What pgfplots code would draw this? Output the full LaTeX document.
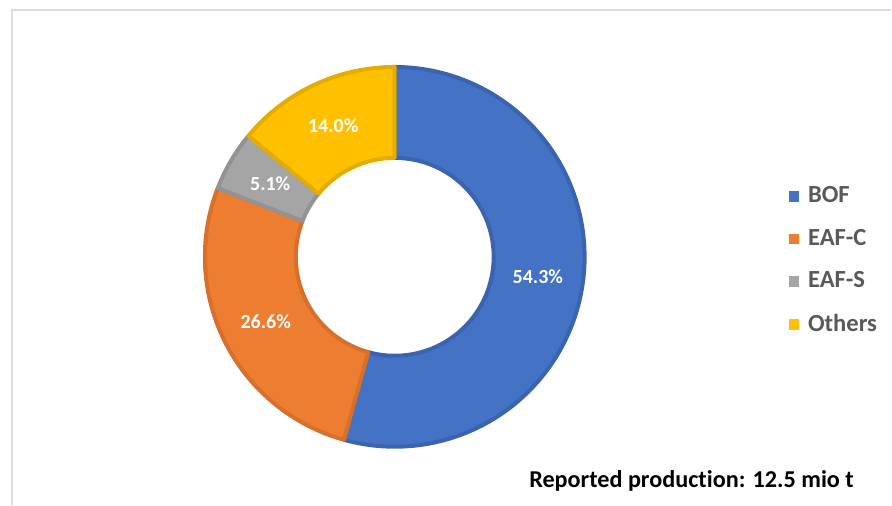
\documentclass[border=0pt]{standalone}
\usepackage{pgfplots}
\pgfplotsset{compat=1.18}
\usepackage{fontspec}
\setmainfont{Carlito}[Ligatures=NoCommon]
\definecolor{cBOF}{HTML}{4472C4}\definecolor{dBOF}{HTML}{3B64B0}
\definecolor{cEAFC}{HTML}{ED7D31}\definecolor{dEAFC}{HTML}{D6702A}
\definecolor{cEAFS}{HTML}{A5A5A5}\definecolor{dEAFS}{HTML}{939393}
\definecolor{cOTH}{HTML}{FFC000}\definecolor{dOTH}{HTML}{E4AC00}
\definecolor{legtext}{HTML}{595959}
\definecolor{framec}{HTML}{DDDDDD}
% shares in percent: BOF 54.3, EAF-C 26.6, EAF-S 5.1, Others 14.0
\pgfmathsetmacro{\angA}{90}
\pgfmathsetmacro{\angB}{\angA-3.6*54.3}
\pgfmathsetmacro{\angC}{\angB-3.6*26.6}
\pgfmathsetmacro{\angD}{\angC-3.6*5.1}
\pgfmathsetmacro{\angE}{\angD-3.6*14.0}
\begin{document}
\begin{tikzpicture}
\begin{axis}[
  scale only axis, width=446pt, height=252.5pt,
  xmin=0, xmax=892, ymin=0, ymax=505,
  hide axis, clip=false,
  legend style={at={(axis cs:789,322.5)}, anchor=north west, draw=none, fill=none,
    font=\fontsize{12.3}{14}\selectfont\bfseries, text=legtext, row sep=7.7pt,
    legend cell align=left, inner sep=0pt},
  legend image code/.code={\fill[#1,draw=none] (0pt,-2.6pt) rectangle (5.2pt,2.6pt);\path[draw=none,fill=none] (0pt,0pt) -- (7.6pt,0pt);},
]
\draw[framec, line width=0.6pt] (axis cs:12,0) -- (axis cs:12,495) -- (axis cs:892,495);
\path (axis cs:0,0) rectangle (axis cs:892,505);
\addplot[fill=cBOF, draw=dBOF, line width=2pt, line join=round, domain=\angB:\angA, samples=120, variable=\t]
  ({395+190*cos(\t)},{248+190*sin(\t)}) -- (axis cs:{395+99*cos(\angA)},{248+99*sin(\angA)}) arc[start angle=\angA, end angle=\angB, radius=49.5pt] -- cycle;
\addlegendentry{BOF}
\addplot[fill=cEAFC, draw=dEAFC, line width=2pt, line join=round, domain=\angC:\angB, samples=70, variable=\t]
  ({395+190*cos(\t)},{248+190*sin(\t)}) -- (axis cs:{395+99*cos(\angB)},{248+99*sin(\angB)}) arc[start angle=\angB, end angle=\angC, radius=49.5pt] -- cycle;
\addlegendentry{EAF-C}
\addplot[fill=cEAFS, draw=dEAFS, line width=2pt, line join=round, domain=\angD:\angC, samples=20, variable=\t]
  ({395+190*cos(\t)},{248+190*sin(\t)}) -- (axis cs:{395+99*cos(\angC)},{248+99*sin(\angC)}) arc[start angle=\angC, end angle=\angD, radius=49.5pt] -- cycle;
\addlegendentry{EAF-S}
\addplot[fill=cOTH, draw=dOTH, line width=2pt, line join=round, domain=\angE:\angD, samples=40, variable=\t]
  ({395+190*cos(\t)},{248+190*sin(\t)}) -- (axis cs:{395+99*cos(\angD)},{248+99*sin(\angD)}) arc[start angle=\angD, end angle=\angE, radius=49.5pt] -- cycle;
\addlegendentry{Others}
\begin{scope}[every node/.style={text=white, font=\fontsize{10}{12}\selectfont\bfseries}]
\node at (axis cs:{395+144.5*cos((\angA+\angB)/2)},{248+144.5*sin((\angA+\angB)/2)}) {54.3\%};
\node at (axis cs:{395+144.5*cos((\angB+\angC)/2)},{248+144.5*sin((\angB+\angC)/2)}) {26.6\%};
\node at (axis cs:{395+144.5*cos((\angC+\angD)/2)},{248+144.5*sin((\angC+\angD)/2)}) {5.1\%};
\node at (axis cs:{395+144.5*cos((\angD+\angE)/2)},{248+144.5*sin((\angD+\angE)/2)}) {14.0\%};
\end{scope}
\node[font=\fontsize{12.1}{14}\selectfont\bfseries, text=black] at (axis cs:692,24) {Reported production: 12.5 mio t};
\end{axis}
\end{tikzpicture}
\end{document}
